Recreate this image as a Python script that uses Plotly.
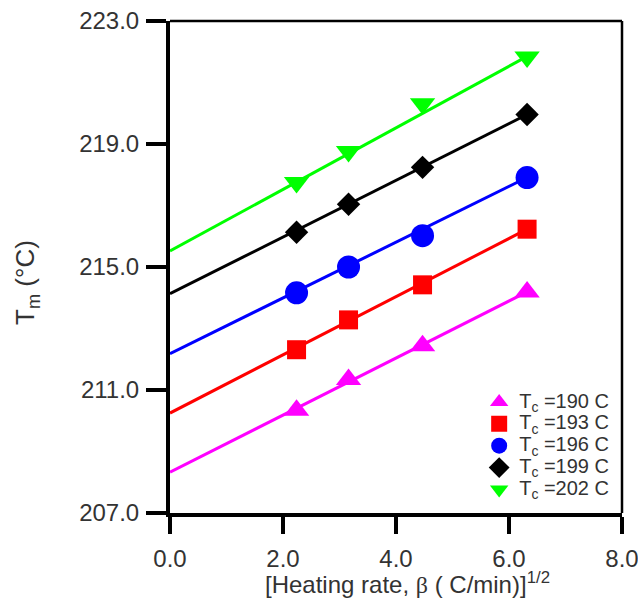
import plotly.graph_objects as go

# ---- data ----
rate_sqrt = [2.24, 3.16, 4.47, 6.32]          # [heating rate]^1/2
labels = ["190", "193", "196", "199", "202"]   # Tc values
tm_190 = [210.34, 211.34, 212.44, 214.19]
tm_193 = [212.31, 213.28, 214.42, 216.23]
tm_196 = [214.16, 215.00, 216.02, 217.91]
tm_199 = [216.13, 217.04, 218.24, 219.96]
tm_202 = [217.75, 218.76, 220.31, 221.83]
fit_x = [0.0, 6.32]
fit_190 = [208.33, 214.19]
fit_193 = [210.25, 216.23]
fit_196 = [212.18, 217.91]
fit_199 = [214.13, 219.96]
fit_202 = [215.52, 221.85]
y_ticks = [207, 211, 215, 219, 223]
x_ticks = [0, 2, 4, 6, 8]

series = [tm_190, tm_193, tm_196, tm_199, tm_202]
fits = [fit_190, fit_193, fit_196, fit_199, fit_202]
colors = ["#FF00FF", "#FF0000", "#0000FF", "#000000", "#00FF00"]
symbols = ["triangle-up", "square", "circle", "diamond", "triangle-down"]
sizes = [22, 19, 23, 18, 22]

FONT = "Liberation Sans, Arial, sans-serif"
TXT = "#333333"

fig = go.Figure()
for f, c in zip(fits, colors):
    fig.add_trace(go.Scatter(x=fit_x, y=f, mode="lines",
                             line=dict(color=c, width=3), showlegend=False,
                             hoverinfo="skip"))
for s, lab, c, sym, sz in zip(series, labels, colors, symbols, sizes):
    fig.add_trace(go.Scatter(
        x=rate_sqrt, y=s, mode="markers",
        marker=dict(color=c, symbol=sym, size=sz, line=dict(width=0)),
        name=f'<span style="font-size:20px">T<sub>c</sub> ={lab} C</span>'))

fig.update_layout(
    width=638, height=599,
    margin=dict(l=170, r=16, t=21, b=86, autoexpand=False),
    paper_bgcolor="white", plot_bgcolor="white",
    font=dict(family=FONT, color=TXT, size=24),
    showlegend=True,
    legend=dict(x=0.684, y=0.258, xanchor="left", yanchor="top",
                bgcolor="rgba(0,0,0,0)", font=dict(size=14.5, color=TXT),
                itemwidth=30, tracegroupgap=0),
    xaxis=dict(range=[0, 8], tickvals=x_ticks, tickformat=".1f",
               showgrid=False, zeroline=False, showline=True,
               linecolor="black", linewidth=4, ticks="outside",
               ticklen=17, tickwidth=3.5, tickcolor="black",
               tickfont=dict(size=24, color=TXT), ticklabelstandoff=4,
               ticklabeloverflow="allow", automargin=False),
    yaxis=dict(range=[207, 223], tickvals=y_ticks, tickformat=".1f",
               showgrid=False, zeroline=False, showline=True,
               linecolor="black", linewidth=4, ticks="outside",
               ticklen=20, tickwidth=3.5, tickcolor="black",
               tickfont=dict(size=24, color=TXT), ticklabelstandoff=2,
               ticklabeloverflow="allow", automargin=False),
    shapes=[
        dict(type="line", xref="paper", yref="paper", x0=0, x1=1, y0=1, y1=1,
             line=dict(color="black", width=2.5)),
        dict(type="line", xref="paper", yref="paper", x0=1, x1=1, y0=0, y1=1,
             line=dict(color="black", width=2.5)),
    ],
    annotations=[
        dict(text="T<sub>m</sub> (°C)", xref="paper", yref="paper",
             x=-0.316, y=0.468, xanchor="center", yanchor="middle",
             textangle=-90, showarrow=False, font=dict(size=26, color=TXT)),
        dict(text=("[Heating rate, <span style=\"font-family:'Liberation Serif'\">β</span>"
                   " ( C/min)]<sup>1/2</sup>"), xref="paper",
             yref="paper", x=0.525, y=-0.142, xanchor="center",
             yanchor="middle", showarrow=False, font=dict(size=24, color=TXT)),
    ],
)

fig.write_html("out.html")
